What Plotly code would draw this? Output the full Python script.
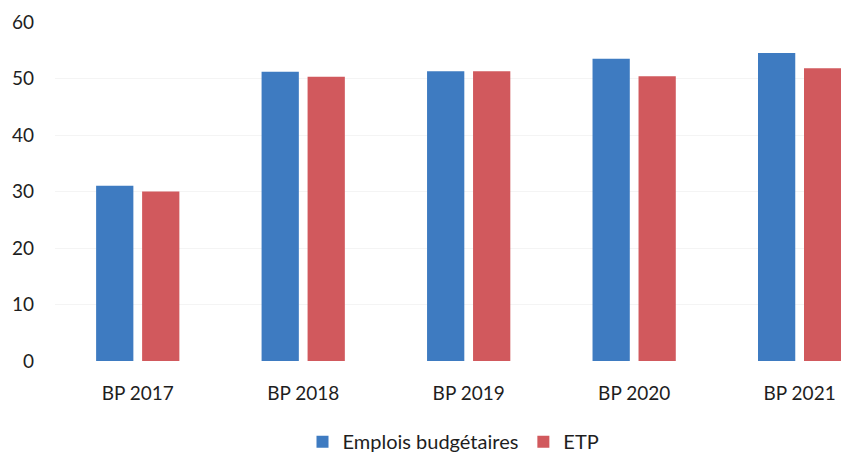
import plotly.graph_objects as go

# Budget positions by year
categories = ["BP 2017", "BP 2018", "BP 2019", "BP 2020", "BP 2021"]
emplois_budgetaires = [31, 51.2, 51.3, 53.5, 54.5]
etp = [30, 50.3, 51.3, 50.4, 51.8]
y_ticks = [0, 10, 20, 30, 40, 50, 60]

BLUE = "#3E7BC1"
RED = "#D1595D"
FONT = "Lato, 'Open Sans', sans-serif"

fig = go.Figure()
fig.add_trace(go.Bar(x=categories, y=emplois_budgetaires, name="Emplois budgétaires",
                     marker=dict(color=BLUE, line=dict(width=0))))
fig.add_trace(go.Bar(x=categories, y=etp, name="ETP",
                     marker=dict(color=RED, line=dict(width=0))))

fig.update_layout(
    width=841, height=453,
    margin=dict(l=55, r=0, t=22, b=92, autoexpand=False),
    paper_bgcolor="white", plot_bgcolor="white",
    barmode="group", bargap=0.444, bargroupgap=0.19,
    font=dict(family=FONT, size=19, color="#1E1E1E"),
    showlegend=True,
    legend=dict(orientation="h", x=0.507, xanchor="center", y=-0.238, yanchor="middle",
                font=dict(size=20, color="#1E1E1E"), itemwidth=30, traceorder="normal"),
)
fig.update_xaxes(range=[-0.5, 4.25], showgrid=False, showline=False, zeroline=False,
                 ticks="", ticklabelstandoff=19, tickfont=dict(size=19))
fig.update_yaxes(range=[0, 60], tickvals=y_ticks, showgrid=True, gridcolor="#F4F4F4",
                 gridwidth=1, zeroline=False, showline=False, ticks="",
                 ticklabelstandoff=20, tickfont=dict(size=19))

fig.write_html("out.html")
